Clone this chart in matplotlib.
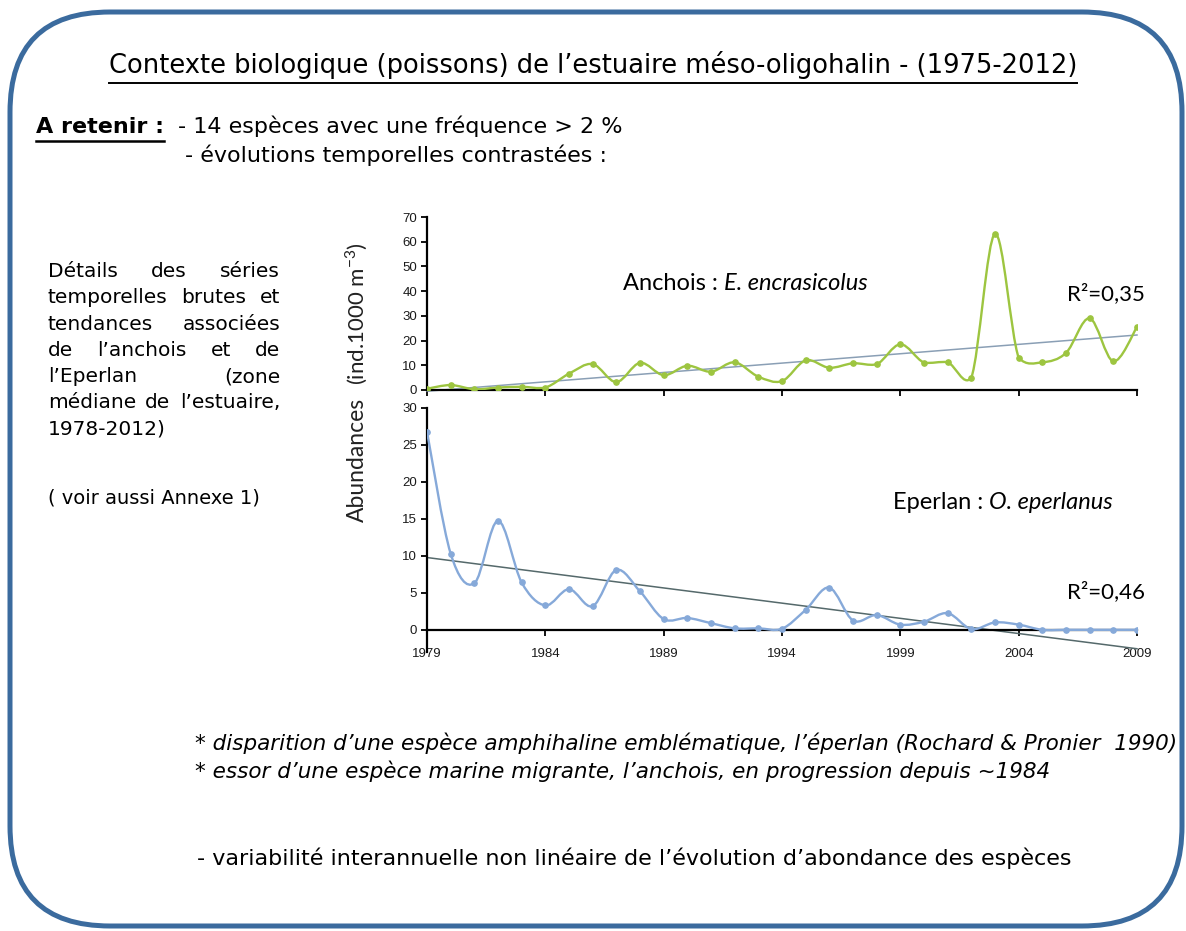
import numpy as np
import matplotlib
matplotlib.use("Agg")
import matplotlib.pyplot as plt
from matplotlib.path import Path
from matplotlib.patches import PathPatch, FancyBboxPatch

# --- data -------------------------------------------------------------
years = list(range(1979, 2010))
anchois = [0.5, 2.0, 0.3, 1.0, 1.3, 1.0, 6.6, 10.5, 3.2, 11.0, 6.0, 9.8, 7.4, 11.2,
           5.4, 3.6, 12.0, 9.0, 10.8, 10.4, 18.5, 11.1, 11.2, 5.0, 63.2, 13.1,
           11.2, 15.0, 29.0, 11.6, 25.5]
eperlan = [26.8, 10.3, 6.3, 14.75, 6.4, 3.3, 5.5, 3.2, 8.1, 5.2, 1.45, 1.6, 0.9, 0.2,
           0.2, 0.15, 2.7, 5.7, 1.26, 2.0, 0.7, 1.1, 2.25, 0.1, 1.0, 0.7,
           0.0, 0.0, 0.0, 0.0, 0.0]
xticks = [1979, 1984, 1989, 1994, 1999, 2004, 2009]
r2_labels = ["R²=0,35", "R²=0,46"]

GREEN = "#9dc540"
BLUE = "#86a9d9"
BORDER = "#3b6b9e"
BODY = "DejaVu Sans"


def smooth_path(x, y):
    """Excel-like smoothed line: cubic Bezier segments through the points."""
    p = np.column_stack([x, y]).astype(float)
    n = len(p)
    tang = np.zeros_like(p)
    for i in range(n):
        a = p[max(i - 1, 0)]
        b = p[min(i + 1, n - 1)]
        tang[i] = b - a
    verts = [p[0]]
    codes = [Path.MOVETO]
    for i in range(n - 1):
        p1, p2 = p[i], p[i + 1]
        c1 = p1 + tang[i] / 6.0
        c2 = p2 - tang[i + 1] / 6.0
        # keep control points from overshooting too far vertically
        lo, hi = min(p1[1], p2[1]), max(p1[1], p2[1])
        span = hi - lo
        c1[1] = np.clip(c1[1], lo - 0.6 * span - 0.5, hi + 0.6 * span + 0.5)
        c2[1] = np.clip(c2[1], lo - 0.6 * span - 0.5, hi + 0.6 * span + 0.5)
        verts += [c1, c2, p2]
        codes += [Path.CURVE4] * 3
    return Path(verts, codes)


fig = plt.figure(figsize=(11.86, 9.31), dpi=100)
fig.patch.set_facecolor("white")

# background layer in pixel coords
bg = fig.add_axes([0, 0, 1, 1], zorder=0)
bg.set_xlim(0, 1186)
bg.set_ylim(931, 0)
bg.axis("off")
bg.add_patch(FancyBboxPatch((10, 12), 1172, 914,
                            boxstyle="round,pad=0,rounding_size=100",
                            fill=False, ec=BORDER, lw=3.6))

renderer = fig.canvas.get_renderer()


def width_of(t):
    bb = t.get_window_extent(renderer=renderer)
    return bb.width


def underline(t, lw=1.3, off=4):
    bb = t.get_window_extent(renderer=renderer)
    y = 931 - bb.y0 + off
    bg.plot([bb.x0, bb.x1], [y, y], color="black", lw=lw)


def justify(words, x0, x1, y, size):
    ts = [bg.text(x0, y, w, fontsize=size, family=BODY, va="baseline") for w in words]
    if len(ts) == 1:
        return
    ws = [width_of(t) for t in ts]
    gap = (x1 - x0 - sum(ws)) / (len(ts) - 1)
    x = x0
    for t, w in zip(ts, ws):
        t.set_x(x)
        x += w + gap


# title
t = bg.text(593, 73, "Contexte biologique (poissons) de l’estuaire méso-oligohalin - (1975-2012)",
            fontsize=18.5, family=BODY, ha="center", va="baseline")
underline(t, lw=1.4)

t = bg.text(36, 133, "A retenir :", fontsize=16, family=BODY, weight="bold", va="baseline")
underline(t, lw=1.8)
bg.text(178, 133, "- 14 espèces avec une fréquence > 2 %", fontsize=16, family=BODY, va="baseline")
bg.text(185, 162, "- évolutions temporelles contrastées :", fontsize=16, family=BODY, va="baseline")

# left paragraph (justified)
para = [["Détails", "des", "séries"],
        ["temporelles", "brutes", "et"],
        ["tendances", "associées"],
        ["de", "l’anchois", "et", "de"],
        ["l’Eperlan", "(zone"],
        ["médiane", "de", "l’estuaire,"],
        ["1978-2012)"]]
for i, words in enumerate(para):
    y = 277 + i * 26.3
    if i == len(para) - 1:
        bg.text(48, y, words[0], fontsize=14.5, family=BODY, va="baseline")
    else:
        justify(words, 48, 280, y, 14.5)
bg.text(48, 503, "( voir aussi Annexe 1)", fontsize=14, family=BODY, va="baseline")

# bottom notes
bg.text(195, 750, "* disparition d’une espèce amphihaline emblématique, l’éperlan (Rochard & Pronier  1990)",
        fontsize=15.5, family=BODY, style="italic", va="baseline")
bg.text(195, 778, "* essor d’une espèce marine migrante, l’anchois, en progression depuis ~1984",
        fontsize=15.5, family=BODY, style="italic", va="baseline")
bg.text(197, 865, "- variabilité interannuelle non linéaire de l’évolution d’abondance des espèces",
        fontsize=16, family=BODY, va="baseline")

# --- charts -----------------------------------------------------------
L, W = 427 / 1186, (1137 - 427) / 1186
ax1 = fig.add_axes([L, 1 - 390 / 931, W, (390 - 217) / 931], zorder=2)
ax2 = fig.add_axes([L, 1 - 652 / 931, W, (652 - 408) / 931], zorder=2)

x = np.array(years, dtype=float)
for ax, vals, col, trend_col, ylim, yt in [
        (ax1, anchois, GREEN, "#8a9fb5", (0, 70), range(0, 71, 10)),
        (ax2, eperlan, BLUE, "#55696b", (-3, 30), range(0, 31, 5))]:
    ax.set_facecolor("none")
    y = np.array(vals, dtype=float)
    ax.add_patch(PathPatch(smooth_path(x, y), fill=False, ec=col, lw=1.7, zorder=3))
    ax.plot(x, y, "o", ms=3.8, color=col, zorder=4)
    k, b = np.polyfit(x, y, 1)
    ax.plot(x[[0, -1]], k * x[[0, -1]] + b, color=trend_col, lw=1.1, zorder=2, clip_on=False)
    ax.set_xlim(1979, 2009)
    ax.set_ylim(*ylim)
    ax.set_yticks(list(yt))
    ax.set_xticks(xticks)
    for s in ["top", "right"]:
        ax.spines[s].set_visible(False)
    for s in ["left", "bottom"]:
        ax.spines[s].set_linewidth(1.6)
    ax.spines["bottom"].set_position(("data", 0))
    ax.tick_params(direction="out", length=4, width=1.3, labelsize=9.5, pad=3)
    for lab in ax.get_yticklabels() + ax.get_xticklabels():
        lab.set_family("Liberation Sans")
        lab.set_color("#1a1a1a")

ax1.set_xticklabels([])
ax2.set_xticklabels([str(v) for v in xticks])
ax2.tick_params(axis="x", pad=9)

t = bg.text(623, 290, "Anchois : ", fontsize=17, family="Lato", va="baseline")
bg.text(623 + width_of(t), 290, "E. encrasicolus", fontsize=17, family="Lato",
        style="italic", va="baseline")
bg.text(1145, 300, r2_labels[0], fontsize=16, family="Lato", ha="right", va="baseline")
t = bg.text(893, 509, "Eperlan : ", fontsize=17, family="Lato", va="baseline")
bg.text(893 + width_of(t), 509, "O. eperlanus", fontsize=17, family="Lato",
        style="italic", va="baseline")
bg.text(1145, 598, r2_labels[1], fontsize=16, family="Lato", ha="right", va="baseline")

# shared y label
fig.text(357 / 1186, 1 - 460 / 931, "Abundances", rotation=90,
         ha="center", va="center", fontsize=16.5, family="Lato", color="#222222")
fig.text(357 / 1186, 1 - 314 / 931, "(ind.1000 m$^{\\mathregular{-3}}$)", rotation=90,
         ha="center", va="center", fontsize=16, family="Lato", color="#222222")

fig.savefig("out.png", dpi=100)
